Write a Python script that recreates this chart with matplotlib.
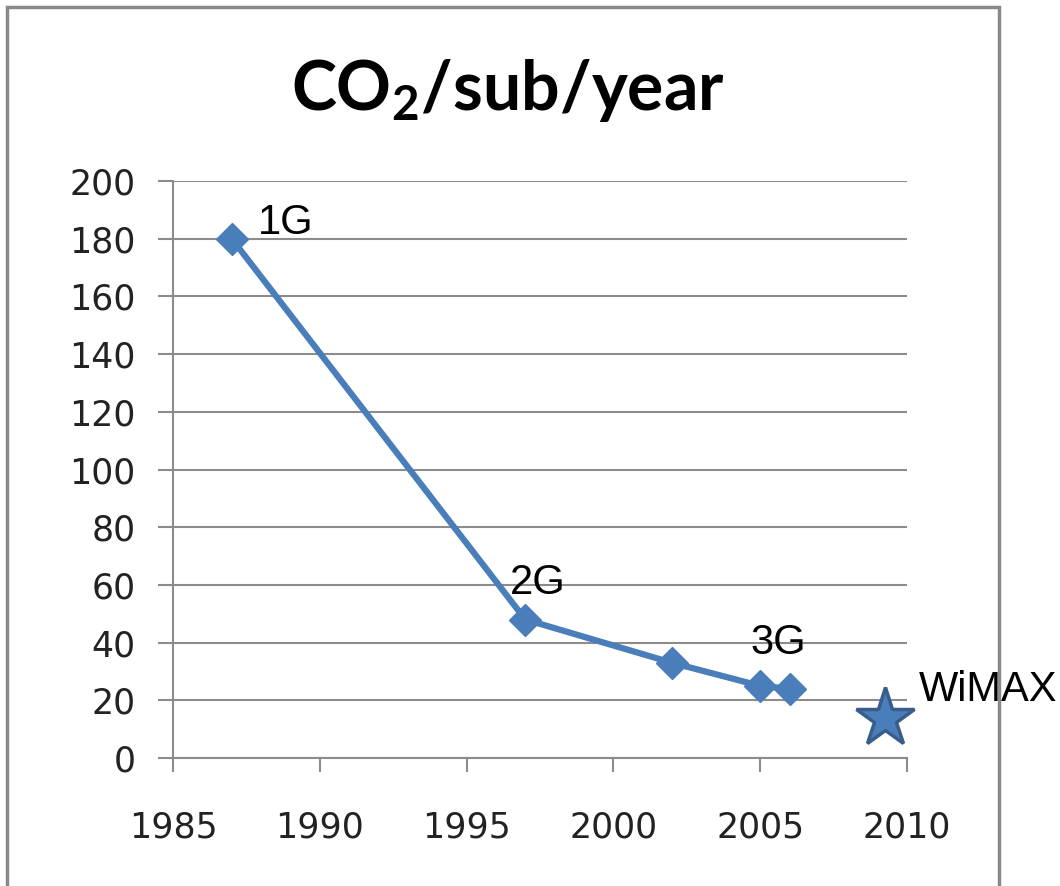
import matplotlib.pyplot as plt
from matplotlib.patches import Rectangle

# data
years = [1987, 1997, 2002, 2005, 2006]
co2 = [180, 48, 33, 25, 24]
wimax_year = 2009.25
wimax_co2 = 14

labels = ['1G', '2G', '3G']
label_idx = [0, 1, 3]

x_ticks = [1985, 1990, 1995, 2000, 2005, 2010]
y_ticks = [0, 20, 40, 60, 80, 100, 120, 140, 160, 180, 200]

plt.rcParams['font.family'] = ['DejaVu Sans']
plt.rcParams['mathtext.fontset'] = 'custom'
plt.rcParams['mathtext.bf'] = 'Lato:bold'
plt.rcParams['mathtext.rm'] = 'Lato:bold'

fig = plt.figure(figsize=(10.6, 8.86), dpi=100)
ax = fig.add_axes([173/1060, 1-758/886, (907-173)/1060, (758-181)/886])

# outer frame
fig.patches.append(Rectangle((7/1060, -0.05), (999-7)/1060, 1.05-7/886,
                             transform=fig.transFigure, fill=False,
                             edgecolor='#8a8a8a', linewidth=2.5))

gray = '#8c8c8c'
ax.plot(years, co2, '-D', color='#4a7ebb', lw=4.5, ms=16, zorder=3)
ax.plot(wimax_year, wimax_co2, '*', ms=44, color='#4a7ebb',
        markeredgecolor='#385d8a', markeredgewidth=2.5, zorder=4, clip_on=False)

offsets = [(19, 11), (9, 26), (13, 31)]
for lab, i, off in zip(labels, label_idx, offsets):
    ha = 'left' if lab == '1G' else 'center'
    ax.annotate(lab, (years[i], co2[i]), xytext=off, textcoords='offset points',
                ha=ha, va='center', fontsize=30, family='Liberation Sans')
ax.annotate('WiMAX', (wimax_year, wimax_co2), xytext=(24, 20),
            textcoords='offset points', ha='left', va='center',
            fontsize=30, family='Liberation Sans', annotation_clip=False)

ax.set_xlim(1985, 2010)
ax.set_ylim(0, 200)
ax.set_xticks(x_ticks)
ax.set_yticks(y_ticks)
ax.grid(axis='y', color=gray, lw=1.5)
ax.set_axisbelow(True)
for s in ['top', 'right']:
    ax.spines[s].set_visible(False)
for s in ['left', 'bottom']:
    ax.spines[s].set_color(gray)
    ax.spines[s].set_linewidth(1.5)
ax.tick_params(axis='y', length=11, width=1.5, color=gray, pad=16,
               labelsize=25, labelcolor='#222222')
ax.tick_params(axis='x', length=10, width=1.5, color=gray, pad=28,
               labelsize=25, labelcolor='#222222')

fig.text(508/1060, 1-90/886, r'$\mathbf{CO_2/sub/year}$', ha='center',
         va='center', fontsize=49)

fig.savefig('out.png', dpi=100)
